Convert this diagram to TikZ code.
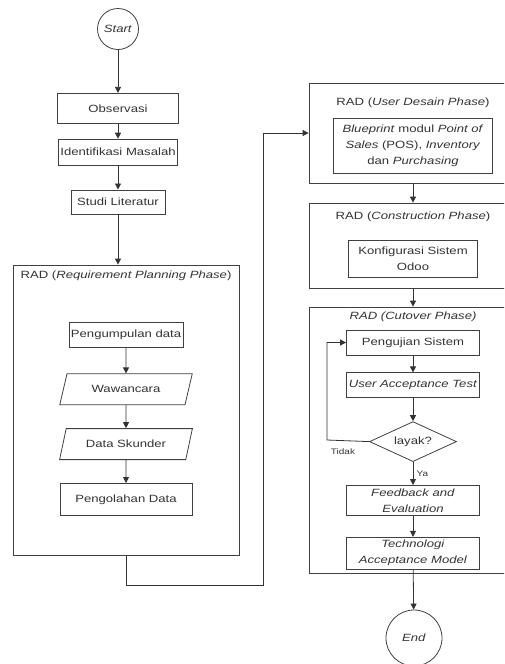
\documentclass[tikz,border=0pt]{standalone}
\usepackage{fontspec}
\setmainfont{Liberation Sans}[FakeStretch=1.25]
\usetikzlibrary{positioning,shapes.geometric,arrows.meta}

\begin{document}
\begin{tikzpicture}[x=1pt, y=1pt,
        every node/.append style={font=\fontsize{10.5}{16}\selectfont, text=black!80},
        terminal/.style={circle, draw=black!75, line width=0.8pt, inner sep=0pt},
        procbox/.style={rectangle, draw=black!75, line width=0.8pt, align=center, inner sep=2pt},
        databox/.style={trapezium, trapezium left angle=60, trapezium right angle=120, trapezium stretches=true, draw=black!75, line width=0.8pt, minimum width=133pt, minimum height=31pt, inner sep=0pt},
        decisionbox/.style={diamond, aspect=2.2, draw=black!75, line width=0.8pt, minimum width=87pt, minimum height=40pt, inner sep=0pt},
        phasebox/.style={rectangle, draw=black!75, line width=0.8pt},
        flow/.style={-{Triangle[width=6pt,length=6pt]}, draw=black!80, line width=0.8pt},
]
        \useasboundingbox (0,0) rectangle (504,-664);
        \clip (0,0) rectangle (504,-664);

        % left column
        \node[terminal, minimum size=41pt] (start) at (118,-29) {\textit{Start}};
        \node[procbox, minimum width=121pt, minimum height=30pt] (obs) [below=43pt of start] {Observasi};
        \node[procbox, minimum width=103pt, minimum height=26pt] (ident) [below=15pt of obs] {Identifikasi Masalah};
        \node[procbox, minimum width=94pt, minimum height=24pt] (studi) [below=24pt of ident] {Studi Literatur};

        \node[phasebox, minimum width=226pt, minimum height=290pt] (reqphase) at (126,-410) {};
        \node (reqtitle) [below=3pt of reqphase.north] {RAD (\textit{Requirement Planning Phase})};
        \node[procbox, minimum width=114pt, minimum height=25pt] (kumpul) at (126,-334.5) {Pengumpulan data};
        \node[databox] (wawan) [below=26pt of kumpul] {Wawancara};
        \node[databox] (skunder) [below=23pt of wawan] {Data Skunder};
        \node[procbox, minimum width=132pt, minimum height=32pt] (olah) [below=23pt of skunder] {Pengolahan Data};

        % right column
        \node[phasebox, minimum width=208pt, minimum height=100pt] (userphase) at (413,-133) {};
        \node (usertitle) [below=12pt of userphase.north] {RAD (\textit{User Desain Phase})};
        \node[procbox, minimum width=159pt, minimum height=55pt] (blueprint) at (413,-145.5) {\textit{Blueprint} modul \textit{Point of}\\\textit{Sales} (POS), \textit{Inventory}\\dan \textit{Purchasing}};

        \node[phasebox, minimum width=208pt, minimum height=85pt] (constphase) at (413,-245.5) {};
        \node (consttitle) [below=6pt of constphase.north] {RAD (\textit{Construction Phase})};
        \node[procbox, minimum width=129pt, minimum height=37pt] (konfig) at (413,-258.5) {Konfigurasi Sistem\\Odoo};

        \node[phasebox, minimum width=208pt, minimum height=266pt] (cutphase) at (413,-440) {};
        \node (cuttitle) [below=2pt of cutphase.north] {\textit{RAD (Cutover Phase)}};
        \node[procbox, minimum width=133pt, minimum height=25pt] (uji) at (413,-342.5) {Pengujian Sistem};
        \node[procbox, minimum width=133pt, minimum height=25pt] (uat) [below=17pt of uji] {\textit{User Acceptance Test}};
        \node[decisionbox] (layak) [below=23pt of uat] {layak?};
        \node[procbox, minimum width=133pt, minimum height=30pt] (feedback) [below=23pt of layak] {\textit{Feedback and}\\\textit{Evaluation}};
        \node[procbox, minimum width=133pt, minimum height=32pt] (tam) [below=21pt of feedback] {\textit{Technologi}\\\textit{Acceptance Model}};
        \node[terminal, minimum size=56pt] (stop) at (414,-638) {\textit{End}};

        \node[font=\fontsize{8}{10}\selectfont] (tidak) at (343,-452) {Tidak};
        \coordinate (loopturn) at (327,-440);
        \coordinate (turnA) at (126,-585);
        \coordinate (turnB) at (263,-133);

        \draw[flow] (start) -- (obs);
        \draw[flow] (obs) -- (ident);
        \draw[flow] (ident) -- (studi);
        \draw[flow] (studi.south) -- (studi.south |- reqphase.north);
        \draw[flow] (kumpul) -- (wawan);
        \draw[flow] (wawan) -- (skunder);
        \draw[flow] (skunder) -- (olah);
        \draw[flow] (reqphase.south) -- (turnA) -| (turnB) -- (userphase.west);
        \draw[flow] (userphase.south) -- (constphase.north);
        \draw[flow] (constphase.south) -- (cutphase.north);
        \draw[flow] (uji) -- (uat);
        \draw[flow] (uat) -- (layak);
        \draw[flow] (layak) -- node[right, font=\fontsize{8}{10}\selectfont] (ya) {Ya} (feedback);
        \draw[flow] (layak.west) -- (loopturn) |- (uji.west);
        \draw[flow] (feedback) -- (tam);
        \draw[flow] (tam) -- (stop);
    \end{tikzpicture}
\end{document}
